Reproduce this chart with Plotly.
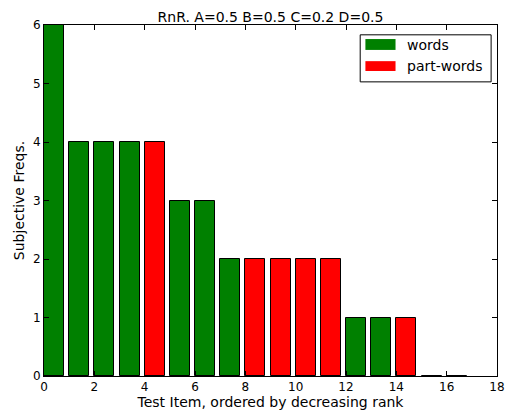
import plotly.graph_objects as go

items = list(range(17))
freqs = [6, 4, 4, 4, 4, 3, 3, 2, 2, 2, 2, 2, 1, 1, 1, 0, 0]
kinds = ["words", "words", "words", "words", "part-words", "words", "words", "words",
         "part-words", "part-words", "part-words", "part-words", "words", "words",
         "part-words", "words", "words"]
colors = {"words": "#008000", "part-words": "#ff0000"}
title = "RnR. A=0.5 B=0.5 C=0.2 D=0.5"
xlabel = "Test Item, ordered by decreasing rank"
ylabel = "Subjective Freqs."
x_ticks = [0, 2, 4, 6, 8, 10, 12, 14, 16, 18]
y_ticks = [0, 1, 2, 3, 4, 5, 6]

font = "DejaVu Sans"
fig = go.Figure()
fig.add_trace(go.Bar(
    x=[i + 0.4 for i in items], y=freqs, width=0.8,
    marker=dict(color=[colors[k] for k in kinds], line=dict(color="black", width=1)),
    showlegend=False,
))

ax = dict(showline=True, linecolor="black", linewidth=1, mirror="ticks", ticks="inside",
          ticklen=5, tickcolor="black", showgrid=False, zeroline=False, automargin=False,
          tickfont=dict(family=font, size=12, color="black"))
fig.update_xaxes(range=[0, 18], tickvals=x_ticks, ticktext=[str(v) for v in x_ticks],
                 title=dict(text=xlabel, font=dict(family=font, size=14, color="black"), standoff=2), **ax)
fig.update_yaxes(range=[0, 6], tickvals=y_ticks, ticktext=[str(v) for v in y_ticks],
                 title=dict(text=ylabel, font=dict(family=font, size=14, color="black"), standoff=5), **ax)

# manual legend (matplotlib-style)
fig.add_shape(type="rect", xref="paper", yref="paper", x0=0.698, x1=0.987, y0=0.838, y1=0.972,
              line=dict(color="black", width=1), fillcolor="white")
legend_items = [("words", 0.960, 0.929, 0.943), ("part-words", 0.897, 0.869, 0.883)]
for name, ya, yb, yt in legend_items:
    fig.add_shape(type="rect", xref="paper", yref="paper", x0=0.7095, x1=0.776, y0=yb, y1=ya,
                  line=dict(color=colors[name], width=0), fillcolor=colors[name])
    fig.add_annotation(xref="paper", yref="paper", x=0.798, y=yt, text=name, showarrow=False,
                       xanchor="left", yanchor="middle",
                       font=dict(family=font, size=14, color="black"))

fig.update_layout(
    width=508, height=414,
    margin=dict(l=44, r=11, t=25, b=38),
    paper_bgcolor="white", plot_bgcolor="white",
    title=dict(text=title, x=0.5, xref="paper", y=1 - 17 / 414, yanchor="middle",
               font=dict(family=font, size=14, color="black")),
    bargap=0,
)
fig.write_html("out.html", config={"displayModeBar": False},
               post_script="document.body.style.margin='0';document.body.style.overflow='hidden';"
                           "document.documentElement.style.overflow='hidden';")
